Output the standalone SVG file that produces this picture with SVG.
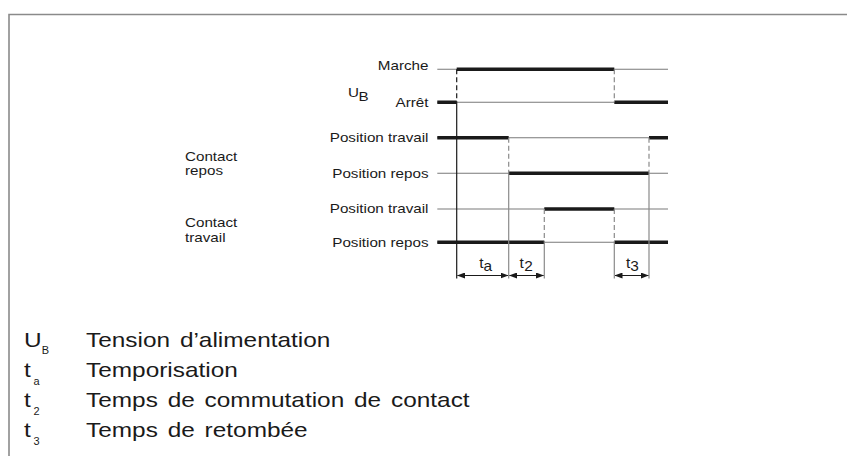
<svg xmlns="http://www.w3.org/2000/svg" width="847" height="456" viewBox="0 0 847 456">
<style>
text{font-family:"Liberation Sans",Arial,sans-serif;fill:#1a1a1a}
.lb{font-size:13px;text-anchor:end}
.ct{font-size:13px}
.lg{font-size:20px}
.lt{font-size:20px;word-spacing:2.5px}
.ls{font-size:10px}
.tl{font-size:14px}
.thin{stroke:#7a7a7a;stroke-width:1.1;fill:none}
.thick{stroke:#1a1a1a;stroke-width:3.6;fill:none}
.vk{stroke:#1a1a1a;stroke-width:1.2;fill:none}
.vg{stroke:#8a8a8a;stroke-width:1.2;fill:none}
.dk{stroke:#1a1a1a;stroke-width:1.2;fill:none;stroke-dasharray:5 3}
.dg{stroke:#8a8a8a;stroke-width:1.2;fill:none;stroke-dasharray:5 3}
.ar{stroke:#1a1a1a;stroke-width:1.1;fill:none;marker-start:url(#ah);marker-end:url(#ah)}
</style>
<defs>
<marker id="ah" viewBox="0 0 8 6" refX="7.5" refY="3" markerWidth="8" markerHeight="6" markerUnits="userSpaceOnUse" orient="auto-start-reverse">
<path d="M0,0 L8,3 L0,6 Z" fill="#1a1a1a"/>
</marker>
</defs>
<rect width="847" height="456" fill="#fff"/>
<path id="frame" d="M9,456 V14.5 H847" fill="none" stroke="#8a8a8a" stroke-width="1.6"/>

<g id="labels">
<text class="lb" transform="translate(428.5 70.3) scale(1.17 1)">Marche</text>
<text class="lb" transform="translate(428.5 106.7) scale(1.17 1)">Arrêt</text>
<text class="lb" transform="translate(428.5 142.2) scale(1.17 1)">Position travail</text>
<text class="lb" transform="translate(428.5 178) scale(1.17 1)">Position repos</text>
<text class="lb" transform="translate(428.5 213.4) scale(1.17 1)">Position travail</text>
<text class="lb" transform="translate(428.5 246.7) scale(1.17 1)">Position repos</text>
<text class="ct" transform="translate(348 96.7) scale(1.17 1)">U</text>
<text class="ct" transform="translate(358.5 100.7) scale(1.17 1)">B</text>
<text class="ct" transform="translate(185 160.7) scale(1.17 1)">Contact</text>
<text class="ct" transform="translate(185 174.5) scale(1.17 1)">repos</text>
<text class="ct" transform="translate(185 227.3) scale(1.17 1)">Contact</text>
<text class="ct" transform="translate(185 241.5) scale(1.17 1)">travail</text>
</g>

<g id="signals">
<path class="thin" d="M437.3,69.3 H668 M437.3,102.3 H668 M437.3,137.7 H668 M437.3,173.3 H668 M437.3,209 H668 M437.3,242.3 H668"/>
<path class="thick" d="M456.7,69.3 H614.3 M437.3,102.3 H456.7 M614.3,102.3 H668 M437.3,137.7 H508.7 M649,137.7 H668 M508.7,173.3 H649 M544.3,209 H614.3 M437.3,242.3 H544.3 M614.3,242.3 H668"/>
</g>

<g id="connectors">
<path class="dk" d="M456.7,69.3 V102.3"/>
<path class="vk" d="M456.7,102.3 V278.5"/>
<path class="dg" d="M614.3,69.3 V102.3 M508.7,137.7 V173.3 M649,137.7 V173.3 M544.3,209 V242.3 M614.3,209 V242.3"/>
<path class="vg" d="M508.7,173.3 V278.5 M649,173.3 V278.5 M544.3,242.3 V278.5 M614.3,242.3 V278.5"/>
<path class="ar" d="M457.5,275.5 H508"/>
<path class="ar" d="M509.5,275.5 H543.5"/>
<path class="ar" d="M615,275.5 H648.3"/>
</g>

<g id="time-labels">
<text class="tl" transform="translate(479.3 268.3) scale(1.1 1)">t</text>
<text class="tl" transform="translate(483.5 270.7) scale(1.1 1)">a</text>
<text class="tl" transform="translate(519.5 268.3) scale(1.1 1)">t</text>
<text class="tl" transform="translate(524.3 270.7) scale(1.1 1)">2</text>
<text class="tl" transform="translate(626 268.3) scale(1.1 1)">t</text>
<text class="tl" transform="translate(630.2 270.7) scale(1.1 1)">3</text>
</g>

<g id="legend">
<text class="lg" transform="translate(24 346.7) scale(1.22 1)">U</text>
<text class="ls" transform="translate(41.7 354.3) scale(1.1 1)">B</text>
<text class="lt" transform="translate(86 346.7) scale(1.22 1)">Tension d’alimentation</text>
<text class="lg" transform="translate(24 376.7) scale(1.22 1)">t</text>
<text class="ls" transform="translate(33.5 385) scale(1.1 1)">a</text>
<text class="lt" transform="translate(86 376.7) scale(1.22 1)">Temporisation</text>
<text class="lg" transform="translate(24 406.7) scale(1.22 1)">t</text>
<text class="ls" transform="translate(33.5 415) scale(1.1 1)">2</text>
<text class="lt" transform="translate(86 406.7) scale(1.22 1)">Temps de commutation de contact</text>
<text class="lg" transform="translate(24 436.7) scale(1.22 1)">t</text>
<text class="ls" transform="translate(33.5 445) scale(1.1 1)">3</text>
<text class="lt" transform="translate(86 436.7) scale(1.22 1)">Temps de retombée</text>
</g>
</svg>
